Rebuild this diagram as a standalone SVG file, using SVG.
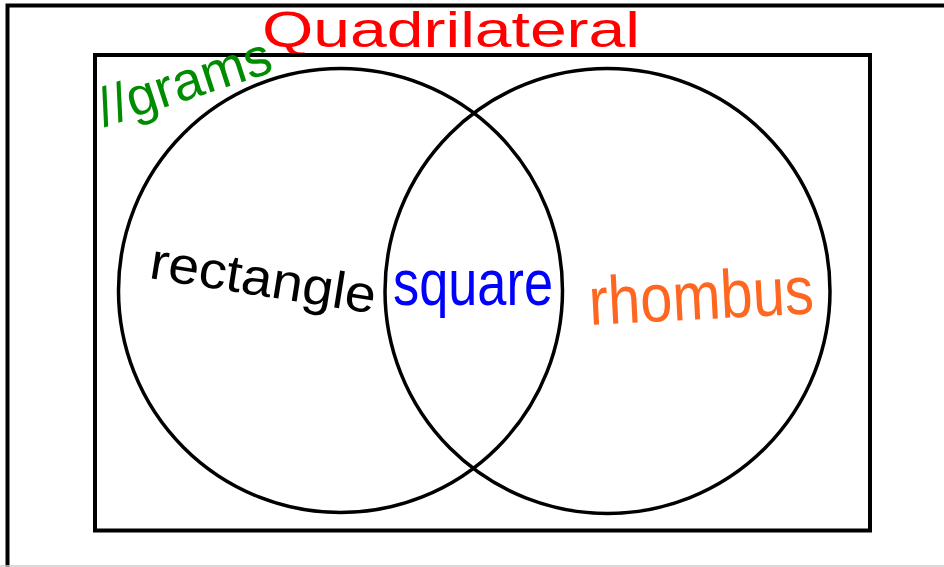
<svg xmlns="http://www.w3.org/2000/svg" width="944" height="567" viewBox="0 0 944 567">
<style>
.frame{fill:none;stroke:#000;stroke-width:4}
.lbl{font-family:"Liberation Sans","DejaVu Sans",sans-serif}
</style>
<rect width="944" height="567" fill="#fff"/>
<g id="quadrilateral">
<path class="frame" d="M7.5,580 V5.5 H960"/>
<text class="lbl" x="262" y="47" font-size="50" fill="#ff0000" textLength="378" lengthAdjust="spacingAndGlyphs">Quadrilateral</text>
</g>
<line x1="0" y1="566" x2="944" y2="566" stroke="#cccccc" stroke-width="1.5"/>
<g id="parallelograms">
<rect class="frame" x="95" y="55" width="775" height="475.5"/>
<text class="lbl" transform="translate(104,127) rotate(-18)" font-size="54" fill="#008c00" textLength="180" lengthAdjust="spacingAndGlyphs">//grams</text>
</g>
<g id="rectangle">
<circle cx="340.5" cy="290.5" r="222" fill="none" stroke="#000" stroke-width="3.5"/>
<text class="lbl" transform="translate(148,278) rotate(9)" font-size="52" fill="#000" textLength="228" lengthAdjust="spacingAndGlyphs">rectangle</text>
</g>
<g id="rhombus">
<circle cx="607.5" cy="291" r="222.5" fill="none" stroke="#000" stroke-width="3.5"/>
<text class="lbl" transform="translate(590,325) rotate(-3)" font-size="68" fill="#ff6620" textLength="225" lengthAdjust="spacingAndGlyphs">rhombus</text>
</g>
<g id="square">
<text class="lbl" x="393" y="305" font-size="64" fill="#0000ff" textLength="160" lengthAdjust="spacingAndGlyphs">square</text>
</g>
<g id="connectors"></g>
</svg>
